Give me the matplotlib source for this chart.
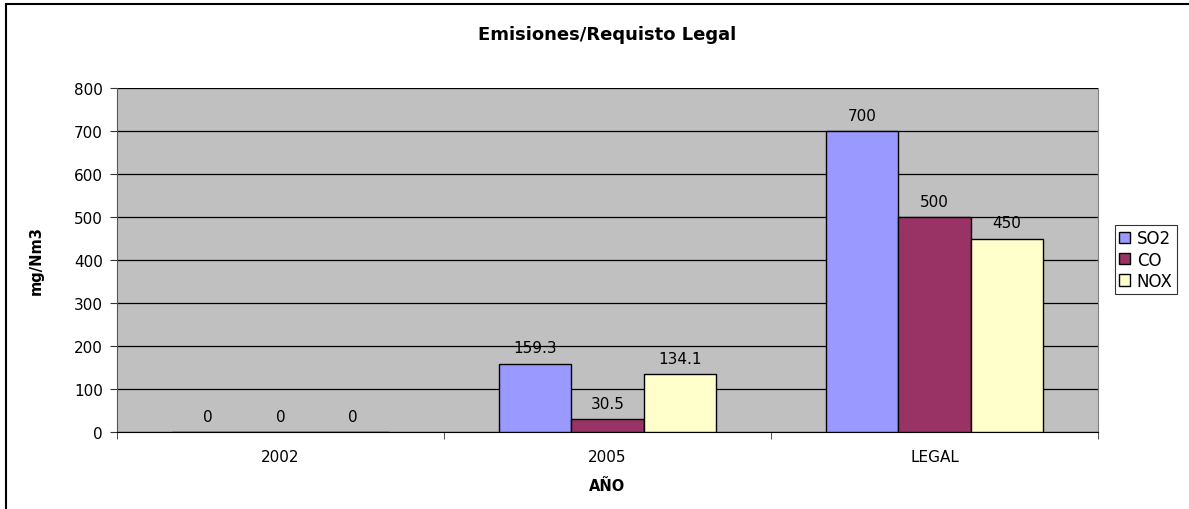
"""
Emisiones/Requisito Legal bar chart (Excel style).
"""

import numpy as np
import matplotlib.pyplot as plt
from matplotlib.patches import Rectangle

categories = ["2002", "2005", "LEGAL"]
series_names = ["SO2", "CO", "NOX"]
so2 = [0, 159.3, 700]
co = [0, 30.5, 500]
nox = [0, 134.1, 450]
labels = [["0", "159.3", "700"], ["0", "30.5", "500"], ["0", "134.1", "450"]]
colors = ["#9999FF", "#993366", "#FFFFCC"]

plt.rcParams["font.family"] = ["DejaVu Sans"]

fig = plt.figure(figsize=(11.89, 5.10), dpi=100)
ax = fig.add_axes([117 / 1189, 1 - 433 / 510, (1098 - 117) / 1189, (433 - 89) / 510])

# outer chart border (right and bottom edges fall outside the image)
fig.patches.append(Rectangle((6 / 1189, -0.1), 1.2, 1.1 - 5 / 510,
                             transform=fig.transFigure, fill=False,
                             edgecolor="black", linewidth=1.5))

ax.set_facecolor("#C0C0C0")
x = np.arange(len(categories))
width = 0.222

for j, (vals, color) in enumerate(zip([so2, co, nox], colors)):
    pos = x + (j - 1) * width
    ax.bar(pos, vals, width, color=color, edgecolor="black", linewidth=1.0,
           label=series_names[j], zorder=3)
    for p, v, t in zip(pos, vals, labels[j]):
        ax.annotate(t, (p, v), xytext=(0, 6), textcoords="offset points",
                    ha="center", va="bottom", fontsize=11, zorder=4)

ax.set_xlim(-0.5, 2.5)
ax.set_ylim(0, 800)
ax.set_yticks(np.arange(0, 801, 100))
ax.yaxis.grid(True, color="black", linewidth=0.9, zorder=0)
ax.set_axisbelow(True)

ax.set_xticks(x)
ax.set_xticklabels(categories)
ax.set_xticks([-0.5, 0.5, 1.5, 2.5], minor=True)
ax.tick_params(axis="x", which="major", length=0, labelsize=11, pad=12)
ax.tick_params(axis="x", which="minor", length=5, direction="out", color="#333333")
ax.tick_params(axis="y", length=5, direction="out", labelsize=11, pad=5, color="#333333")

ax.spines["top"].set_visible(False)
ax.spines["right"].set_color("#808080")
ax.spines["left"].set_color("#555555")
ax.spines["bottom"].set_color("black")

ax.set_xlabel("AÑO", fontweight="bold", fontsize=10.5, labelpad=10)
ax.set_ylabel("mg/Nm3", fontweight="bold", fontsize=10.5, labelpad=22)
fig.text((117 + 1098) / 2 / 1189, 1 - 35 / 510, "Emisiones/Requisto Legal",
         ha="center", va="center", fontsize=13, fontweight="bold")

leg = ax.legend(loc="upper left", bbox_to_anchor=(1115 / 1189, 1 - 226 / 510),
                bbox_transform=fig.transFigure, fontsize=12, frameon=True,
                fancybox=False, edgecolor="black", handlelength=0.65,
                handleheight=0.65, handletextpad=0.4, borderpad=0.25,
                labelspacing=0.2, borderaxespad=0)
leg.get_frame().set_linewidth(0.8)

plt.savefig("out.png", dpi=100)
